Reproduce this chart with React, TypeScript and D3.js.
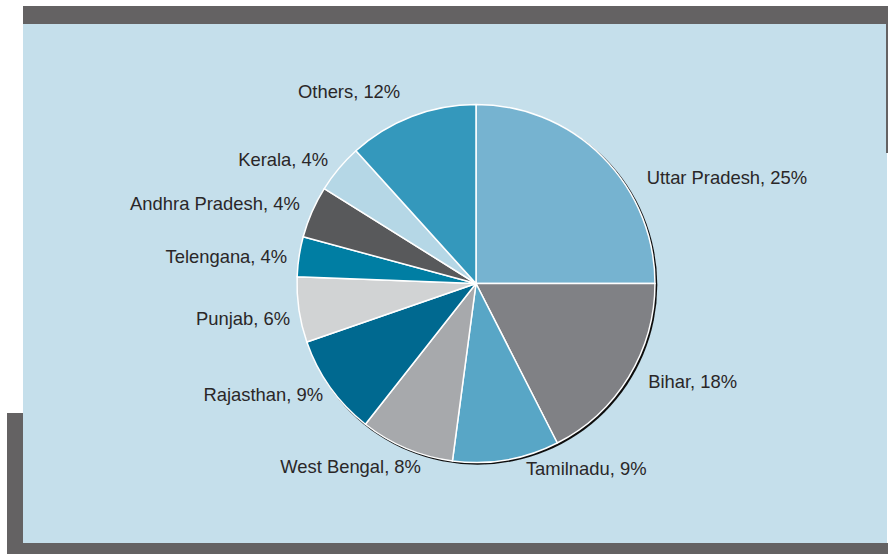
import React from "react";
import * as d3 from "d3";

const states = ["Uttar Pradesh", "Bihar", "Tamilnadu", "West Bengal", "Rajasthan", "Punjab", "Telengana", "Andhra Pradesh", "Kerala", "Others"];
const shares = [25, 17.5, 9.6, 8.5, 9.1, 5.9, 3.6, 4.7, 4.4, 11.7];
const shareLabels = ["25%", "18%", "9%", "8%", "9%", "6%", "4%", "4%", "4%", "12%"];
const colors = ["#76b3d0", "#808185", "#58a6c6", "#a7a9ac", "#006990", "#d1d3d4", "#007ea3", "#58595b", "#b5d7e6", "#3498bc"];
// label layout: anchor + nudge relative to point on label ring at mid-angle
const labelAnchor = ["start", "start", "start", "middle", "end", "end", "end", "end", "end", "middle"];
const labelNudge: [number, number][] = [[37, 34], [11, 6], [18, 5], [-52, 15], [1, 8], [1, 14], [-2, 8], [-3, 2], [-3, 4], [-59, -9]];

export default function App() {
  const W = 888, H = 554;
  const cx = 476, cy = 283.5, r = 179;
  const data = states.map((s, i) => ({ s, v: shares[i], i }));
  const pie = d3.pie<any>().value((d) => d.v).sort(null);
  const arcs = pie(data);
  const arc = d3.arc<any>().innerRadius(0).outerRadius(r);
  const dark = "#646263";
  return (
    <svg width={W} height={H} style={{ position: "absolute", left: 0, top: 0 }} fontFamily="'Liberation Sans', Arial, sans-serif">
      <defs>
        <filter id="sh" x="-10%" y="-10%" width="120%" height="120%">
          <feGaussianBlur stdDeviation="0.7" />
        </filter>
      </defs>
      <rect x={23} y={24} width={864} height={519} fill="#c5dfeb" />
      <rect x={23} y={6} width={865} height={18} fill={dark} />
      <rect x={7} y={413} width={16} height={141} fill={dark} />
      <rect x={7} y={543} width={881} height={11} fill={dark} />
      <rect x={886} y={24} width={2} height={129} fill={dark} />
      <g transform={`translate(${cx},${cy})`}>
        <circle cx={1.5} cy={1.5} r={r + 0.8} fill="#111" filter="url(#sh)" />
        {arcs.map((a, i) => (
          <path key={i} d={arc(a) as string} fill={colors[i]} stroke="#ffffff" strokeWidth={1.5} strokeLinejoin="round" />
        ))}
        {arcs.map((a, i) => {
          const mid = (a.startAngle + a.endAngle) / 2;
          const R = r + 10;
          const x = Math.sin(mid) * R + labelNudge[i][0];
          const y = -Math.cos(mid) * R + labelNudge[i][1];
          return (
            <text key={i} x={x} y={y} textAnchor={labelAnchor[i]} fontSize={18.4} fill="#2a2728">
              {`${states[i]}, ${shareLabels[i]}`}
            </text>
          );
        })}
      </g>
    </svg>
  );
}
